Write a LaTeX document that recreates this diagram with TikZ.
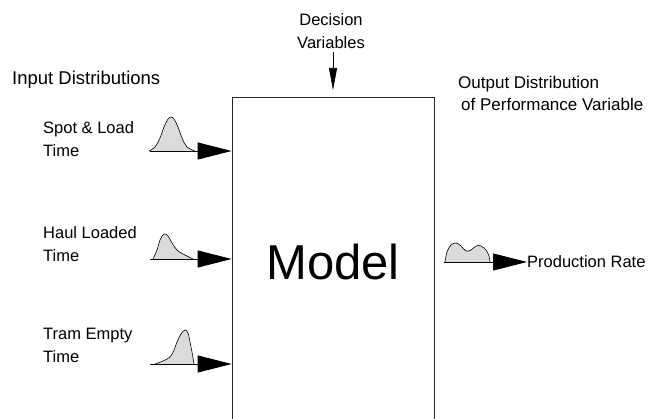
\documentclass[tikz,border=0pt]{standalone}
\usepackage{fontspec}
\setmainfont{Liberation Sans}
\usetikzlibrary{arrows.meta}

\begin{document}
\begin{tikzpicture}[x=1pt, y=-1pt,
      lbl/.style={align=left, anchor=west, inner sep=0pt,
        font=\fontsize{16.5}{23}\selectfont},
      head/.style={lbl, font=\fontsize{18.5}{21}\selectfont},
      feed/.style={line width=0.9pt, -{Triangle[length=34pt, width=17pt]}},
      dist/.style={draw=black, line width=0.6pt, fill=gray!28},
      >=Stealth]
    \clip (0,0) rectangle (648,419);
    \fill[white] (0,0) rectangle (648,419);

    % the model block runs off the bottom edge
    \node[draw=black!85, line width=0.8pt, anchor=north,
          minimum width=202pt, minimum height=360pt] (model) at (333,97) {};
    \node[font=\fontsize{49}{51}\selectfont] (mtxt) at (333,262) {Model};

    % headings
    \node[head] (inhead) at (12,80) {Input Distributions};
    \node[lbl, font=\fontsize{17}{22}\selectfont] (outhead) at (458,93.5)
      {Output Distribution\\\hspace*{3pt}of Performance Variable};
    \node[lbl, align=center, anchor=center] (dec) at (331,31.5)
      {Decision\\Variables};
    \draw[line width=0.6pt, -{Triangle[length=22pt, width=8pt]},
          shorten <=3pt, shorten >=7pt]
      (dec.south -| model.north) -- (model.north);

    % inputs
    \node[lbl] (in1) at (43,139.5) {Spot \& Load\\Time};
    \node[lbl] (in2) at (43,244.5) {Haul Loaded\\Time};
    \node[lbl] (in3) at (43,345.5) {Tram Empty\\Time};
    \coordinate (s1) at (150,151);
    \coordinate (s2) at (150,259);
    \coordinate (s3) at (150,364);
    \draw[feed] (s1) -- (s1 -| model.west);
    \draw[feed] (s2) -- (s2 -| model.west);
    \draw[feed] (s3) -- (s3 -| model.west);

    % input distributions
    \draw[dist] plot[smooth, tension=0.6] coordinates {(149,151) (155,147)
      (160,138) (164,127) (168,119) (171,117) (174,119) (178,127) (182,138)
      (187,147) (195,151)};
    \draw[dist] plot[smooth, tension=0.6] coordinates {(153,259) (157,250)
      (160,240) (164,234) (168,236) (172,243) (177,250) (183,254) (193,259)};
    \draw[dist] plot[smooth, tension=0.6] coordinates {(155,364) (163,361)
      (170,357) (174,350) (177,342) (181,334) (185,330) (188,333) (190,342)
      (192,352) (194,364)};

    % output
    \coordinate (o1) at (model.east |- mtxt);
    \node[lbl] (prod) at (527,262) {Production Rate};
    \draw[feed] ([xshift=10pt]o1) -- (prod.west);
    \draw[dist] plot[smooth, tension=0.6] coordinates {(445,262) (447,252)
      (451,245) (456,243) (461,246) (466,251) (471,250) (476,246) (481,246)
      (486,250) (489,256) (490,262)};
\end{tikzpicture}
\end{document}
